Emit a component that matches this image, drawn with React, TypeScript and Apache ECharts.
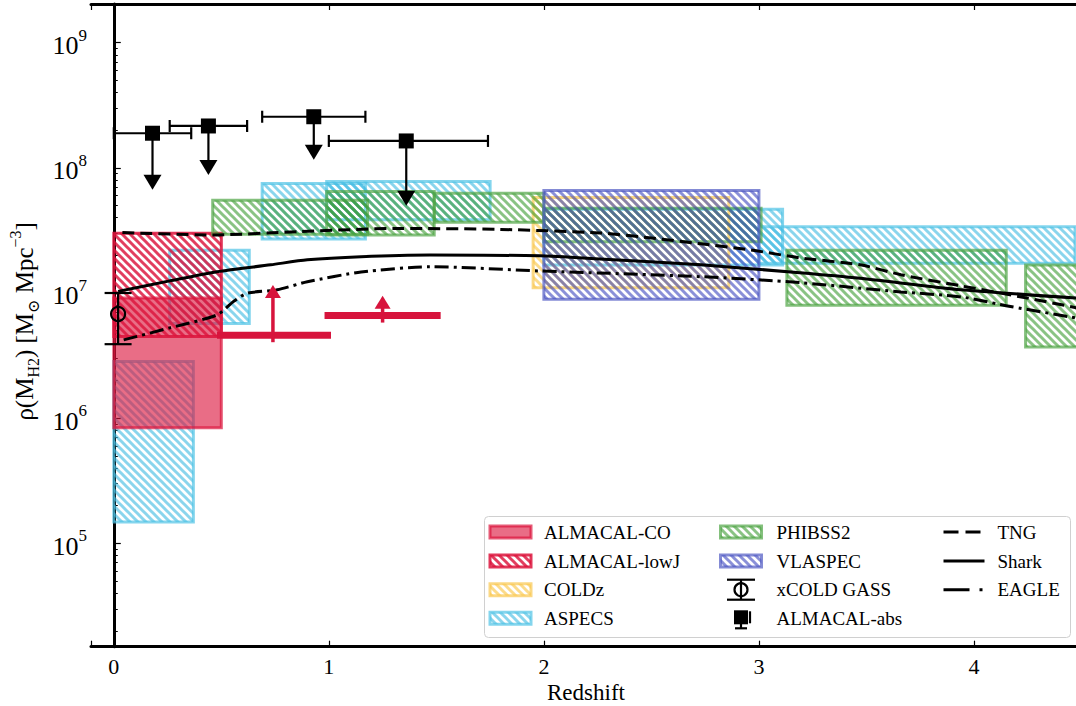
import React, { useEffect, useRef } from 'react';
import * as echarts from 'echarts';

const FONT = '"Liberation Serif", "DejaVu Serif", serif';

// Boxes: [zLow, zHigh, rhoLow, rhoHigh]
const almacalCO = [[0.0, 0.5, 8.4e5, 9.1e6]];
const almacalLowJ = [[0.0, 0.5, 4.5e6, 3.0e7]];
const coldz = [[1.95, 2.86, 1.1e7, 5.8e7]];
const aspecs = [
  [0.0, 0.37, 1.48e5, 2.83e6],
  [0.26, 0.63, 5.7e6, 2.2e7],
  [0.69, 1.17, 2.7e7, 7.5e7],
  [0.99, 1.75, 3.84e7, 7.76e7],
  [2.0, 3.11, 1.67e7, 4.67e7],
  [3.0, 4.47, 1.73e7, 3.39e7],
];
const phibss2 = [
  [0.46, 1.18, 2.95e7, 5.5e7],
  [0.99, 1.49, 2.9e7, 6.46e7],
  [1.49, 2.0, 3.68e7, 6.27e7],
  [2.0, 3.01, 2.57e7, 4.75e7],
  [3.13, 4.15, 8.0e6, 2.2e7],
  [4.24, 4.7, 3.7e6, 1.67e7],
];
const vlaspec = [[2.0, 3.0, 8.9e6, 6.58e7]];

// ALMACAL-abs upper limits: [z, zLow, zHigh, rho, arrowTip]
const almacalAbs = [
  [0.18, 0.0, 0.36, 1.89e8, 6.67e7],
  [0.44, 0.26, 0.62, 2.16e8, 8.77e7],
  [0.93, 0.69, 1.17, 2.56e8, 1.16e8],
  [1.36, 1.0, 1.74, 1.64e8, 4.97e7],
];

// xCOLD GASS: [z, rho, rhoLow, rhoHigh]
const xcoldGass = [[0.02, 6.8e6, 3.9e6, 1.0e7]];

// Lower limits (red): [zLow, zHigh, zArrow, rho, arrowTip]
const lowerLimits = [
  [0.48, 1.01, 0.74, 4.6e6, 1.16e7],
  [0.98, 1.52, 1.25, 6.6e6, 9.5e6],
];

// Simulations
const tngZ = [0.04, 0.46, 0.87, 1.33, 1.8, 2.26, 2.5, 2.73, 2.96, 3.19, 3.47, 3.66, 3.94, 4.22, 4.48];
const tngRho = [3.04e7, 2.91e7, 3.1e7, 3.28e7, 3.22e7, 3.02e7, 2.75e7, 2.47e7, 2.21e7, 1.91e7, 1.68e7, 1.4e7, 1.14e7, 9.3e6, 7.6e6];
const sharkZ = [0.02, 0.26, 0.48, 0.73, 0.9, 1.15, 1.47, 1.98, 2.26, 2.73, 3.19, 3.47, 3.94, 4.48];
const sharkRho = [1.03e7, 1.25e7, 1.48e7, 1.68e7, 1.84e7, 1.95e7, 2.01e7, 1.98e7, 1.87e7, 1.68e7, 1.45e7, 1.31e7, 1.06e7, 9.1e6];
const eagleZ = [0.046, 0.26, 0.48, 0.556, 0.62, 0.76, 0.9, 1.15, 1.47, 1.98, 2.73, 3.19, 3.66, 3.94, 4.17, 4.48];
const eagleRho = [4.22e6, 5.26e6, 6.68e6, 8.53e6, 9.95e6, 1.06e7, 1.23e7, 1.47e7, 1.62e7, 1.5e7, 1.35e7, 1.21e7, 1.02e7, 9.3e6, 7.8e6, 6.3e6];

const xTicks = [0, 1, 2, 3, 4];
const X_MIN = -0.106;
const X_MAX = 4.6;

function hatch(color: string, lw = 3) {
  const c = document.createElement('canvas');
  c.width = 8;
  c.height = 8;
  const ctx = c.getContext('2d')!;
  ctx.strokeStyle = color;
  ctx.lineWidth = lw;
  for (let k = -2; k <= 2; k++) {
    ctx.beginPath();
    ctx.moveTo(k * 8 - 2, -2);
    ctx.lineTo(k * 8 + 10, 10);
    ctx.stroke();
  }
  return { image: c, repeat: 'repeat', imageWidth: 8, imageHeight: 8 } as any;
}

export default function App() {
  const ref = useRef<HTMLDivElement>(null);
  useEffect(() => {
    if (!ref.current) return;
    const chart = echarts.init(ref.current, null, { renderer: 'svg' });

    const styles: Record<string, { fill: any; stroke: string }> = {
      co: { fill: 'rgba(220,20,60,0.62)', stroke: 'rgba(220,20,60,0.7)' },
      lowj: { fill: hatch('rgba(220,20,60,0.82)'), stroke: 'rgba(220,20,60,0.85)' },
      coldz: { fill: hatch('rgba(250,195,60,0.6)'), stroke: 'rgba(250,200,80,0.7)' },
      aspecs: { fill: hatch('rgba(60,185,225,0.6)'), stroke: 'rgba(80,195,230,0.7)' },
      phibss2: { fill: hatch('rgba(60,155,50,0.6)'), stroke: 'rgba(80,165,70,0.7)' },
      vlaspec: { fill: hatch('rgba(60,70,190,0.6)'), stroke: 'rgba(80,90,195,0.7)' },
    };

    const boxSeries = (name: string, data: number[][], key: string) => ({
      type: 'custom',
      name,
      z: 2,
      data,
      encode: { x: [0, 1], y: [2, 3] },
      renderItem: (params: any, api: any) => {
        const p0 = api.coord([api.value(0), api.value(3)]);
        const p1 = api.coord([api.value(1), api.value(2)]);
        const shape = echarts.graphic.clipRectByRect(
          { x: p0[0], y: p0[1], width: p1[0] - p0[0], height: p1[1] - p0[1] },
          params.coordSys
        );
        if (!shape) return null;
        return { type: 'rect', shape, style: { fill: styles[key].fill, stroke: styles[key].stroke, lineWidth: 3 } };
      },
    });

    const lineSeries = (name: string, zs: number[], rhos: number[], type: any) => ({
      type: 'line',
      name,
      z: 3,
      smooth: 0.25,
      showSymbol: false,
      symbol: 'none',
      data: zs.map((z, i) => [z, rhos[i]]),
      lineStyle: { color: '#000', width: 3, type },
    });

    const BLACK = '#000';
    const RED = '#d7143c';

    const xAxisBase = {
      type: 'value',
      min: X_MIN,
      max: X_MAX,
      splitNumber: 5,
      splitLine: { show: false },
      axisLine: { show: true, lineStyle: { color: BLACK, width: 3 } },
      axisTick: { show: true, inside: true, length: 6, lineStyle: { color: BLACK, width: 1.2 } },
    };

    const option: any = {
      animation: false,
      backgroundColor: '#fff',
      grid: { left: 91, top: 4, width: 1012, height: 642.7, outerBoundsMode: 'none', containLabel: false },
      xAxis: [
        {
          ...xAxisBase,
          axisLabel: {
            margin: 9,
            fontFamily: FONT,
            fontSize: 22,
            color: BLACK,
            formatter: (v: number) => {
              const r = Math.round(v);
              return Math.abs(v - r) < 1e-9 && xTicks.includes(r) ? String(r) : '';
            },
          },
          name: 'Redshift',
          nameLocation: 'middle',
          nameMoveOverlap: false,
          nameGap: 34,
          nameTextStyle: { fontFamily: FONT, fontSize: 23, color: BLACK, padding: [0, 22, 0, 0] },
        },
        {
          ...xAxisBase,
          position: 'top',
          axisLabel: { show: false },
        },
      ],
      yAxis: {
        type: 'log',
        logBase: 10,
        min: Math.pow(10, 4.174),
        max: Math.pow(10, 9.309),
        splitLine: { show: false },
        axisLine: { show: true, lineStyle: { color: BLACK, width: 3 } },
        axisTick: { show: true, inside: true, length: 7, lineStyle: { color: BLACK, width: 1.2 } },
        minorTick: { show: true, splitNumber: 9, length: 4, lineStyle: { color: BLACK, width: 1 } },
        axisLabel: {
          margin: 4,
          formatter: (v: number) => {
            const e = Math.log10(v);
            const r = Math.round(e);
            if (Math.abs(e - r) > 1e-6) return '';
            return `{b|10}{s|${r}}`;
          },
          rich: {
            b: { fontFamily: FONT, fontSize: 26, color: BLACK, lineHeight: 32, verticalAlign: 'bottom' },
            s: { fontFamily: FONT, fontSize: 17, color: BLACK, lineHeight: 32, verticalAlign: 'top' },
          },
        },
        name: '{t|ρ(M}{sub|H2}{t|) [M}{sub|⊙}{t| Mpc}{sup|−3}{t|]}',
        nameLocation: 'middle',
        nameMoveOverlap: false,
        nameGap: 50,
        nameTextStyle: {
          padding: [0, 0, 0, 8],
          rich: {
            t: { fontFamily: FONT, fontSize: 25, color: BLACK, lineHeight: 34, verticalAlign: 'middle' },
            sub: { fontFamily: FONT, fontSize: 16, color: BLACK, lineHeight: 34, verticalAlign: 'bottom' },
            sup: { fontFamily: FONT, fontSize: 16, color: BLACK, lineHeight: 34, verticalAlign: 'top' },
          },
        },
      },
      series: [
        boxSeries('ASPECS', aspecs, 'aspecs'),
        boxSeries('ALMACAL-CO', almacalCO, 'co'),
        boxSeries('ALMACAL-lowJ', almacalLowJ, 'lowj'),
        boxSeries('COLDz', coldz, 'coldz'),
        boxSeries('PHIBSS2', phibss2, 'phibss2'),
        boxSeries('VLASPEC', vlaspec, 'vlaspec'),
        lineSeries('TNG', tngZ, tngRho, [12, 6]),
        lineSeries('Shark', sharkZ, sharkRho, 'solid'),
        lineSeries('EAGLE', eagleZ, eagleRho, [14, 5, 3, 5]),
        {
          type: 'custom',
          name: 'lower limits',
          z: 4,
          data: lowerLimits,
          encode: { x: [0, 1, 2], y: [3, 4] },
          renderItem: (params: any, api: any) => {
            const l = api.coord([api.value(0), api.value(3)]);
            const r = api.coord([api.value(1), api.value(3)]);
            const b = api.coord([api.value(2), api.value(3)]);
            const t = api.coord([api.value(2), api.value(4)]);
            const head = 13;
            return {
              type: 'group',
              children: [
                { type: 'line', shape: { x1: l[0], y1: l[1], x2: r[0], y2: r[1] }, style: { stroke: RED, lineWidth: 7 } },
                { type: 'line', shape: { x1: b[0], y1: b[1] + 7, x2: t[0], y2: t[1] + head - 1 }, style: { stroke: RED, lineWidth: 3.5 } },
                { type: 'polygon', shape: { points: [[t[0] - 8, t[1] + head], [t[0] + 8, t[1] + head], [t[0], t[1]]] }, style: { fill: RED } },
              ],
            };
          },
        },
        {
          type: 'custom',
          name: 'xCOLD GASS',
          z: 4,
          data: xcoldGass,
          encode: { x: 0, y: [1, 2, 3] },
          renderItem: (params: any, api: any) => {
            const c = api.coord([api.value(0), api.value(1)]);
            const lo = api.coord([api.value(0), api.value(2)]);
            const hi = api.coord([api.value(0), api.value(3)]);
            const cw = 13.5;
            return {
              type: 'group',
              children: [
                { type: 'line', shape: { x1: lo[0], y1: lo[1], x2: hi[0], y2: hi[1] }, style: { stroke: BLACK, lineWidth: 2.2 } },
                { type: 'line', shape: { x1: lo[0] - cw, y1: lo[1], x2: lo[0] + cw, y2: lo[1] }, style: { stroke: BLACK, lineWidth: 2.2 } },
                { type: 'line', shape: { x1: hi[0] - cw, y1: hi[1], x2: hi[0] + cw, y2: hi[1] }, style: { stroke: BLACK, lineWidth: 2.2 } },
                { type: 'circle', shape: { cx: c[0], cy: c[1], r: 7 }, style: { fill: 'none', stroke: BLACK, lineWidth: 2.2 } },
              ],
            };
          },
        },
        {
          type: 'custom',
          name: 'ALMACAL-abs',
          z: 4,
          data: almacalAbs,
          encode: { x: [0, 1, 2], y: [3, 4] },
          renderItem: (params: any, api: any) => {
            const c = api.coord([api.value(0), api.value(3)]);
            const l = api.coord([api.value(1), api.value(3)]);
            const r = api.coord([api.value(2), api.value(3)]);
            const t = api.coord([api.value(0), api.value(4)]);
            const head = 15;
            const cap = 6;
            const s = 15;
            return {
              type: 'group',
              children: [
                { type: 'line', shape: { x1: l[0], y1: l[1], x2: r[0], y2: r[1] }, style: { stroke: BLACK, lineWidth: 2.2 } },
                { type: 'line', shape: { x1: l[0], y1: l[1] - cap, x2: l[0], y2: l[1] + cap }, style: { stroke: BLACK, lineWidth: 2.2 } },
                { type: 'line', shape: { x1: r[0], y1: r[1] - cap, x2: r[0], y2: r[1] + cap }, style: { stroke: BLACK, lineWidth: 2.2 } },
                { type: 'line', shape: { x1: c[0], y1: c[1], x2: t[0], y2: t[1] - head + 1 }, style: { stroke: BLACK, lineWidth: 2.2 } },
                { type: 'polygon', shape: { points: [[t[0] - 9, t[1] - head], [t[0] + 9, t[1] - head], [t[0], t[1]]] }, style: { fill: BLACK } },
                { type: 'rect', shape: { x: c[0] - s / 2, y: c[1] - s / 2, width: s, height: s }, style: { fill: BLACK } },
              ],
            };
          },
        },
      ],
    };

    // Legend (drawn as graphics)
    const legX = 484.5;
    const legY = 516.5;
    const rows = [532, 561, 589.7, 618.3];
    const iconX = [490, 720.5, 943.5];
    const textX = [544, 776.5, 997.5];
    const iw = 41;
    const ih = 12;
    const g: any[] = [];
    g.push({
      type: 'rect',
      shape: { x: legX, y: legY, width: 586, height: 121, r: 4 },
      style: { fill: 'rgba(255,255,255,0.85)', stroke: '#d0d0d0', lineWidth: 1 },
      z: 10,
    });
    const txt = (x: number, y: number, s: string) => ({
      type: 'text',
      x,
      y,
      z: 11,
      style: { text: s, fontFamily: FONT, fontSize: 19, fill: BLACK, verticalAlign: 'middle', align: 'left' },
    });
    const boxIcon = (x: number, y: number, key: string) => ({
      type: 'rect',
      z: 11,
      shape: { x, y: y - ih / 2, width: iw, height: ih },
      style: { fill: styles[key].fill, stroke: styles[key].stroke, lineWidth: 3 },
    });
    const col1: [string, string][] = [
      ['ALMACAL-CO', 'co'],
      ['ALMACAL-lowJ', 'lowj'],
      ['COLDz', 'coldz'],
      ['ASPECS', 'aspecs'],
    ];
    col1.forEach(([n, k], i) => {
      g.push(boxIcon(iconX[0], rows[i], k));
      g.push(txt(textX[0], rows[i], n));
    });
    const col2: [string, string][] = [
      ['PHIBSS2', 'phibss2'],
      ['VLASPEC', 'vlaspec'],
    ];
    col2.forEach(([n, k], i) => {
      g.push(boxIcon(iconX[1], rows[i], k));
      g.push(txt(textX[1], rows[i], n));
    });
    const cx2 = iconX[1] + iw / 2;
    // xCOLD GASS icon
    g.push({ type: 'line', z: 11, shape: { x1: cx2, y1: rows[2] - 10, x2: cx2, y2: rows[2] + 10 }, style: { stroke: BLACK, lineWidth: 2.2 } });
    g.push({ type: 'line', z: 11, shape: { x1: cx2 - 14, y1: rows[2] - 10, x2: cx2 + 14, y2: rows[2] - 10 }, style: { stroke: BLACK, lineWidth: 2.2 } });
    g.push({ type: 'line', z: 11, shape: { x1: cx2 - 14, y1: rows[2] + 10, x2: cx2 + 14, y2: rows[2] + 10 }, style: { stroke: BLACK, lineWidth: 2.2 } });
    g.push({ type: 'circle', z: 11, shape: { cx: cx2, cy: rows[2], r: 6.5 }, style: { fill: 'none', stroke: BLACK, lineWidth: 2.2 } });
    g.push(txt(textX[1], rows[2], 'xCOLD GASS'));
    // ALMACAL-abs icon
    g.push({ type: 'rect', z: 11, shape: { x: cx2 - 7, y: rows[3] - 8, width: 14, height: 14 }, style: { fill: BLACK } });
    g.push({ type: 'line', z: 11, shape: { x1: cx2, y1: rows[3], x2: cx2, y2: rows[3] + 10 }, style: { stroke: BLACK, lineWidth: 2.2 } });
    g.push({ type: 'line', z: 11, shape: { x1: cx2 - 6, y1: rows[3] + 10, x2: cx2 + 6, y2: rows[3] + 10 }, style: { stroke: BLACK, lineWidth: 2.2 } });
    g.push({ type: 'line', z: 11, shape: { x1: cx2 + 9, y1: rows[3] - 7, x2: cx2 + 9, y2: rows[3] + 5 }, style: { stroke: BLACK, lineWidth: 2.2 } });
    g.push(txt(textX[1], rows[3], 'ALMACAL-abs'));
    // line icons
    const lineIcon = (y: number, type: any) => ({
      type: 'line',
      z: 11,
      shape: { x1: iconX[2], y1: y, x2: iconX[2] + iw, y2: y },
      style: { stroke: BLACK, lineWidth: 3, lineDash: type },
    });
    g.push(lineIcon(rows[0], [15, 7]));
    g.push(txt(textX[2], rows[0], 'TNG'));
    g.push(lineIcon(rows[1], null));
    g.push(txt(textX[2], rows[1], 'Shark'));
    g.push(lineIcon(rows[2], [26, 10, 3, 10]));
    g.push(txt(textX[2], rows[2], 'EAGLE'));

    option.graphic = { elements: g };

    chart.setOption(option);
    return () => chart.dispose();
  }, []);

  return (
    <div
      ref={ref}
      style={{ position: 'fixed', left: 0, top: 0, width: 1076, height: 706, background: '#fff' }}
    />
  );
}
